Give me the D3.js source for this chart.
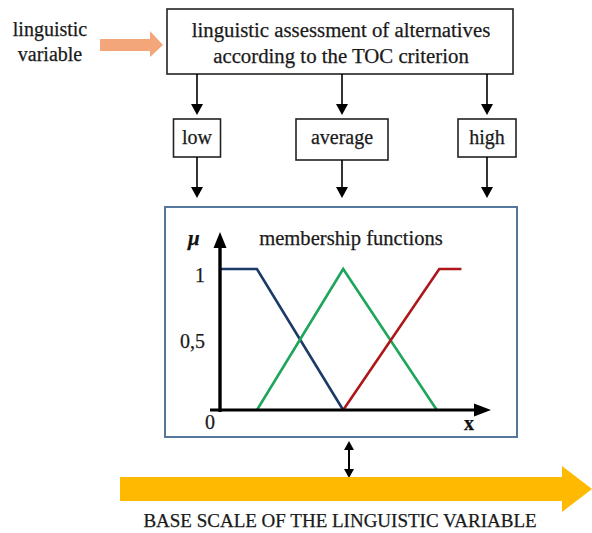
<!DOCTYPE html>
<html>
<head>
<meta charset="utf-8">
<script src="https://cdn.jsdelivr.net/npm/d3@7"></script>
<style>
  body { margin: 0; background: #fff; }
  svg { display: block; font-family: "Liberation Serif", "Times New Roman", serif; }
  text { stroke: #1a1a1a; stroke-width: 0.25px; }
</style>
</head>
<body>
<svg id="chart"></svg>
<script>
// data
let terms = ['low', 'average', 'high']
let termColors = ['#1c3a68', '#1fa55c', '#ad1719']
// membership functions: x on the base scale (0..11), mu on 0..1
let lowX = [0, 1.5, 5]
let lowMu = [1, 1, 0]
let avgX = [1.5, 5, 8.8]
let avgMu = [0, 1, 0]
let highX = [5, 8.9, 9.8]
let highMu = [0, 1, 1]
let muTicks = [1, 0.5]
let muTickLabels = ['1', '0,5']
let titleLines = ['linguistic assessment of alternatives', 'according to the TOC criterion']
let sourceLines = ['linguistic', 'variable']
let baseLabel = 'BASE SCALE OF THE LINGUISTIC VARIABLE'

let width = 592
let height = 533

let svg = d3.select('#chart')
  .attr('width', width)
  .attr('height', height)

let zip = (xs, ys) => xs.map((x, i) => [x, ys[i]])
let series = [zip(lowX, lowMu), zip(avgX, avgMu), zip(highX, highMu)]

let xScale = d3.scaleLinear().domain([0, 11]).range([220, 491])
let yScale = d3.scaleLinear().domain([0, 1]).range([410, 269])
let termScale = d3.scalePoint().domain(terms).range([197, 487])
let boxWidths = [47, 92, 58]

let arrowDown = (x, y1, y2, hl = 11, hw = 6) => {
  svg.append('line')
    .attr('x1', x).attr('x2', x)
    .attr('y1', y1).attr('y2', y2 - hl + 1)
    .attr('stroke', '#000').attr('stroke-width', 1.6)
  svg.append('path')
    .attr('d', `M${x - hw},${y2 - hl}L${x + hw},${y2 - hl}L${x},${y2}Z`)
    .attr('fill', '#000')
}

// left label + orange arrow
svg.append('g').selectAll('text')
  .data(sourceLines)
  .enter()
  .append('text')
  .attr('x', 50)
  .attr('y', (d, i) => 36 + i * 25)
  .attr('text-anchor', 'middle')
  .attr('font-size', 20)
  .attr('fill', '#1a1a1a')
  .text(d => d)

svg.append('path')
  .attr('d', 'M100,39L150,39L150,31L163,45L150,57L150,51L100,51Z')
  .attr('fill', '#f4a67b')

// top box
svg.append('rect')
  .attr('x', 167).attr('y', 9)
  .attr('width', 346).attr('height', 65)
  .attr('fill', '#fff').attr('stroke', '#222').attr('stroke-width', 1.6)

svg.append('g').selectAll('text')
  .data(titleLines)
  .enter()
  .append('text')
  .attr('x', 341)
  .attr('y', (d, i) => 37 + i * 26)
  .attr('text-anchor', 'middle')
  .attr('font-size', 20.8)
  .attr('fill', '#1a1a1a')
  .text(d => d)

// term boxes and arrows
terms.forEach((t, i) => {
  let cx = termScale(t)
  arrowDown(cx, 74, 115)
  svg.append('rect')
    .attr('x', cx - boxWidths[i] / 2).attr('y', 119)
    .attr('width', boxWidths[i]).attr('height', t == 'average' ? 41 : 38)
    .attr('fill', '#fff').attr('stroke', '#222').attr('stroke-width', 1.6)
  svg.append('text')
    .attr('x', cx).attr('y', 144)
    .attr('text-anchor', 'middle')
    .attr('font-size', 20)
    .attr('fill', '#1a1a1a')
    .text(t)
  arrowDown(cx, t == 'average' ? 160 : 157, 198)
})

// membership box
svg.append('rect')
  .attr('x', 165).attr('y', 207)
  .attr('width', 352).attr('height', 230)
  .attr('fill', '#fff').attr('stroke', '#56779c').attr('stroke-width', 2)

svg.append('text')
  .attr('x', 351).attr('y', 245)
  .attr('text-anchor', 'middle')
  .attr('font-size', 20.6)
  .attr('fill', '#1a1a1a')
  .text('membership functions')

// membership lines
let line = d3.line()
  .x(d => xScale(d[0]))
  .y(d => yScale(d[1]))

svg.append('g').selectAll('path')
  .data(series)
  .enter()
  .append('path')
  .attr('d', line)
  .attr('fill', 'none')
  .attr('stroke', (d, i) => termColors[i])
  .attr('stroke-width', 2.6)
  .attr('stroke-linejoin', 'miter')

// y axis tick labels through d3 axis
let yAxis = d3.axisLeft(yScale)
  .tickValues(muTicks)
  .tickSize(0)
  .tickPadding(0)
  .tickFormat((d, i) => muTickLabels[i])

let yAxisG = svg.append('g')
  .attr('transform', 'translate(' + 205 + ',0)')
  .call(yAxis)
yAxisG.select('.domain').remove()
yAxisG.selectAll('text')
  .attr('font-family', '"Liberation Serif", serif')
  .attr('font-size', 20)
  .attr('fill', '#1a1a1a')
  .attr('dy', d => d == 1 ? '0.62em' : '0.42em')

// axis lines with arrow heads
let x0 = xScale(0)
let y0 = yScale(0)
let xEnd = xScale.range()[1]
let yTop = 232
svg.append('line')
  .attr('x1', x0 - 10).attr('x2', xEnd - 14)
  .attr('y1', y0).attr('y2', y0)
  .attr('stroke', '#000').attr('stroke-width', 3.2)
svg.append('path')
  .attr('d', `M${xEnd - 17},${y0 - 6.5}L${xEnd},${y0}L${xEnd - 17},${y0 + 6.5}Z`)
  .attr('fill', '#000')
svg.append('line')
  .attr('x1', x0).attr('x2', x0)
  .attr('y1', y0 + 2).attr('y2', yTop + 14)
  .attr('stroke', '#000').attr('stroke-width', 3.4)
svg.append('path')
  .attr('d', `M${x0 - 6.5},${yTop + 16}L${x0},${yTop}L${x0 + 6.5},${yTop + 16}Z`)
  .attr('fill', '#000')

svg.append('text')
  .attr('x', 188).attr('y', 245)
  .attr('font-size', 21)
  .attr('font-weight', 'bold')
  .attr('font-style', 'italic')
  .attr('fill', '#111')
  .text('\u03bc')
svg.append('text')
  .attr('x', 205).attr('y', 429)
  .attr('font-size', 20)
  .attr('fill', '#1a1a1a')
  .text('0')
svg.append('text')
  .attr('x', 464).attr('y', 430)
  .attr('font-size', 20)
  .attr('font-weight', 'bold')
  .attr('fill', '#111')
  .text('x')

// double arrow to base scale
let dx = 349
svg.append('line')
  .attr('x1', dx).attr('x2', dx)
  .attr('y1', 448).attr('y2', 471)
  .attr('stroke', '#000').attr('stroke-width', 2)
svg.append('path')
  .attr('d', `M${dx - 5},${450}L${dx},${441}L${dx + 5},${450}Z`)
  .attr('fill', '#000')
svg.append('path')
  .attr('d', `M${dx - 5},${469}L${dx},${478}L${dx + 5},${469}Z`)
  .attr('fill', '#000')

// base scale arrow
svg.append('path')
  .attr('d', 'M120,477L562,477L562,466L592,489L562,512L562,501L120,501Z')
  .attr('fill', '#ffb900')

svg.append('text')
  .attr('x', 340).attr('y', 527)
  .attr('text-anchor', 'middle')
  .attr('font-size', 19)
  .attr('fill', '#1a1a1a')
  .text(baseLabel)
</script>
</body>
</html>
